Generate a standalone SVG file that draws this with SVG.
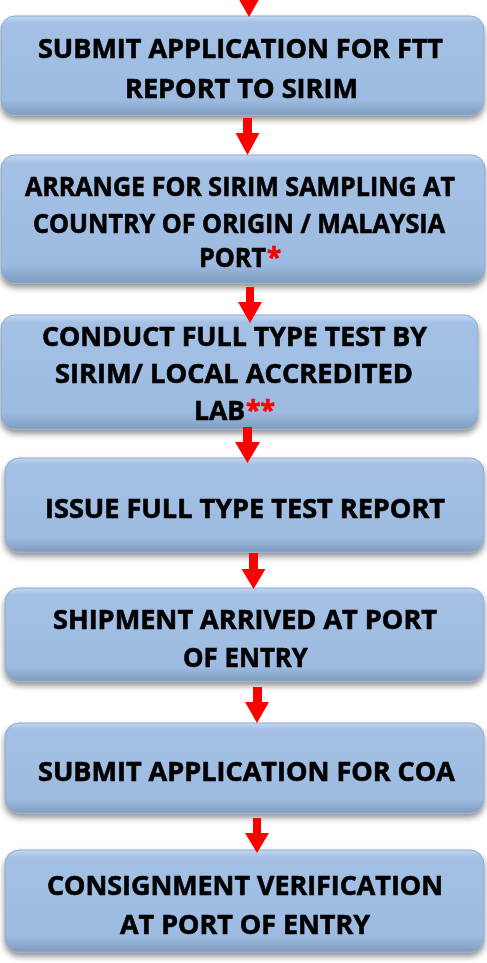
<svg xmlns="http://www.w3.org/2000/svg" width="487" height="963" viewBox="0 0 487 963">
<style>
.box{fill:url(#g);stroke:#8FAACB;stroke-width:1}
.t{font-family:"Open Sans","Liberation Sans",sans-serif;font-weight:700;font-size:26px;fill:#000;stroke:#000;stroke-width:0.6;text-anchor:middle}
.s{text-anchor:start}
.r{fill:#FF0000;stroke:#FF0000}
.arr{fill:#FF0000}
</style>
<defs>
<linearGradient id="g" x1="0" y1="0" x2="0" y2="1">
<stop offset="0" stop-color="#C3D8F2"/>
<stop offset="0.07" stop-color="#A4C0E5"/>
<stop offset="0.85" stop-color="#9DBBE1"/>
<stop offset="1" stop-color="#7F9BC0"/>
</linearGradient>
<filter id="sh" x="-5%" y="-10%" width="110%" height="130%">
<feGaussianBlur in="SourceAlpha" stdDeviation="3"/>
<feOffset dy="4" result="b"/>
<feComponentTransfer><feFuncA type="linear" slope="0.45"/></feComponentTransfer>
<feMerge><feMergeNode/><feMergeNode in="SourceGraphic"/></feMerge>
</filter>
</defs>
<rect width="487" height="963" fill="#FFFFFF"/>
<g id="n1" filter="url(#sh)">
<rect class="box" x="1" y="16" width="483" height="99" rx="14"/>
<text class="t" x="240.5" y="58" textLength="405" lengthAdjust="spacingAndGlyphs">SUBMIT APPLICATION FOR FTT</text>
<text class="t" x="241.5" y="98" textLength="233" lengthAdjust="spacingAndGlyphs">REPORT TO SIRIM</text>
</g>
<g id="n2" filter="url(#sh)">
<rect class="box" x="1" y="155" width="484" height="128" rx="14"/>
<text class="t" x="240" y="196" textLength="430" lengthAdjust="spacingAndGlyphs">ARRANGE FOR SIRIM SAMPLING AT</text>
<text class="t" x="239" y="233" textLength="412" lengthAdjust="spacingAndGlyphs">COUNTRY OF ORIGIN / MALAYSIA</text>
<text class="t s" x="199" y="267" textLength="67" lengthAdjust="spacingAndGlyphs">PORT</text>
<text class="t s r" x="267" y="267">*</text>
</g>
<g id="n3" filter="url(#sh)">
<rect class="box" x="1" y="315" width="477" height="114" rx="14"/>
<text class="t" x="234.5" y="346" textLength="385" lengthAdjust="spacingAndGlyphs">CONDUCT FULL TYPE TEST BY</text>
<text class="t" x="234" y="383" textLength="358" lengthAdjust="spacingAndGlyphs">SIRIM/ LOCAL ACCREDITED</text>
<text class="t s" x="194" y="420" textLength="51" lengthAdjust="spacingAndGlyphs">LAB</text>
<text class="t s r" x="246" y="420" textLength="29" lengthAdjust="spacingAndGlyphs">**</text>
</g>
<g id="n4" filter="url(#sh)">
<rect class="box" x="5" y="458" width="479" height="94" rx="14"/>
<text class="t" x="245" y="518" textLength="400" lengthAdjust="spacingAndGlyphs">ISSUE FULL TYPE TEST REPORT</text>
</g>
<g id="n5" filter="url(#sh)">
<rect class="box" x="5" y="588" width="479" height="93" rx="14"/>
<text class="t" x="245" y="629" textLength="384" lengthAdjust="spacingAndGlyphs">SHIPMENT ARRIVED AT PORT</text>
<text class="t" x="245.5" y="667" textLength="125" lengthAdjust="spacingAndGlyphs">OF ENTRY</text>
</g>
<g id="n6" filter="url(#sh)">
<rect class="box" x="5" y="723" width="479" height="90" rx="14"/>
<text class="t" x="246.5" y="781" textLength="417" lengthAdjust="spacingAndGlyphs">SUBMIT APPLICATION FOR COA</text>
</g>
<g id="n7" filter="url(#sh)">
<rect class="box" x="5" y="850" width="479" height="102" rx="14"/>
<text class="t" x="245" y="895" textLength="396" lengthAdjust="spacingAndGlyphs">CONSIGNMENT VERIFICATION</text>
<text class="t" x="245" y="934" textLength="250" lengthAdjust="spacingAndGlyphs">AT PORT OF ENTRY</text>
</g>
<g id="connectors">
<polygon class="arr" points="244.5,-10 253.5,-10 253.5,-4 261,-4 249,17 237,-4 244.5,-4"/>
<polygon class="arr" points="243,118 252,118 252,133 259.5,133 247.5,155 235.5,133 243,133"/>
<polygon class="arr" points="246,287 254,287 254,302 262,302 250,323 238,302 246,302"/>
<polygon class="arr" points="243,427 252,427 252,442 260,442 247.5,463 235,442 243,442"/>
<polygon class="arr" points="249,553 258,553 258,569 265.5,569 253.5,589 241.5,569 249,569"/>
<polygon class="arr" points="253,687 262,687 262,702 269,702 257,723 245,702 253,702"/>
<polygon class="arr" points="253,818 261,818 261,833 269,833 257,853 245,833 253,833"/>
</g>
</svg>
